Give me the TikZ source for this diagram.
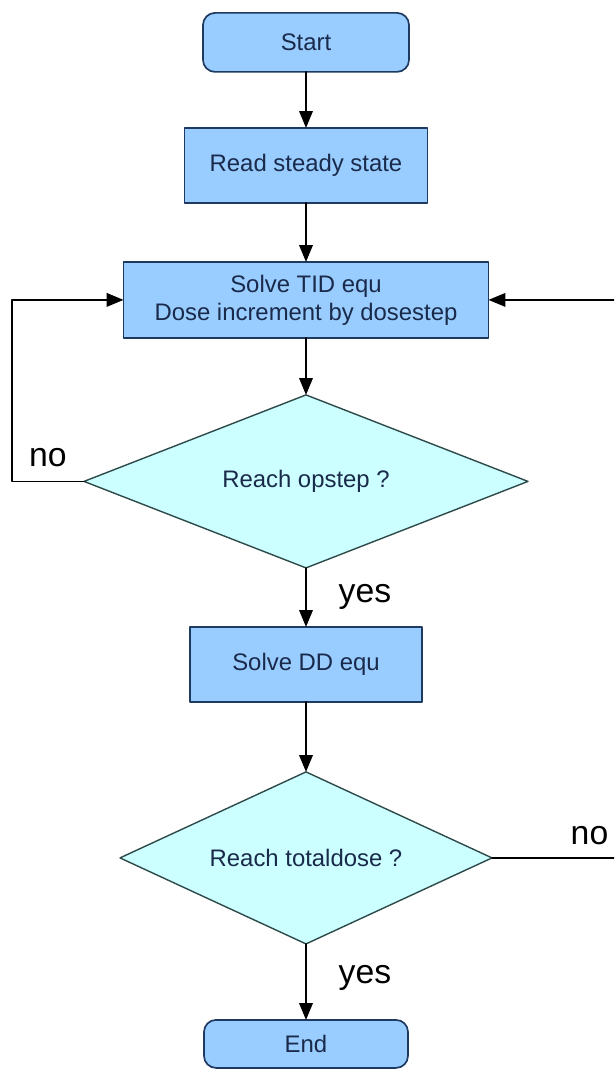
\documentclass[tikz,border=0pt]{standalone}
\usepackage{fontspec}
\setmainfont{Liberation Sans}
\usepackage{tikz}
\usetikzlibrary{arrows.meta,positioning,shapes.geometric}
\definecolor{boxblue}{HTML}{99CCFF}
\definecolor{boxline}{HTML}{1F3A60}
\definecolor{decfill}{HTML}{CCFFFF}
\definecolor{decline}{HTML}{2F4A4A}
\definecolor{boxtext}{HTML}{1A2A4A}
\tikzset{
    every picture/.style={line cap=round,line join=round},
    procbox/.style={draw=boxline,fill=boxblue,line width=1.2pt,
      inner sep=2pt,outer sep=0pt,text=boxtext,
      font=\fontsize{17}{20}\selectfont,align=center},
    termbox/.style={procbox,rounded corners=3mm},
    decision/.style={diamond,aspect=2.5,draw=decline,fill=decfill,line width=1pt,
      inner sep=0pt,outer sep=0pt,text=boxtext,
      font=\fontsize{17}{20}\selectfont,align=center},
    flowarrow/.style={-{Triangle[length=4.2mm,width=3.4mm]},draw=black,
      line width=1pt},
    branchlabel/.style={font=\fontsize{24}{28}\selectfont,inner sep=0pt,
      text=black}
}

\begin{document}
\begin{tikzpicture}
  \useasboundingbox (0,0) rectangle (15.35,-26.9);
  \clip (0,0) rectangle (15.35,-26.9);
  \node[termbox,minimum width=51.5mm,minimum height=14.75mm] (start)
    at (7.65,-1.06) {Start};
  \node[procbox,minimum width=60.75mm,minimum height=18.75mm,
        below=14mm of start] (read) {Read steady state};
  \node[procbox,minimum width=91.25mm,minimum height=19mm,
        below=14.75mm of read] (tid) {Solve TID equ\\Dose increment by dosestep};
  \node[decision,minimum width=111mm,minimum height=43.25mm,
        below=14.25mm of tid] (opstep) {Reach opstep ?};
  \node[procbox,minimum width=58mm,minimum height=18.75mm,
        below=14.75mm of opstep] (dd) {Solve DD equ};
  \node[decision,minimum width=93mm,minimum height=43mm,
        below=17.5mm of dd] (total) {Reach totaldose ?};
  \node[termbox,minimum width=51mm,minimum height=12mm,
        below=19mm of total] (end) {End};

  \draw[flowarrow] (start)--(read);
  \draw[flowarrow] (read)--(tid);
  \draw[flowarrow] (tid)--(opstep);
  \draw[flowarrow] (opstep) -- node[branchlabel,right=8mm] {yes} (dd);
  \draw[flowarrow] (dd)--(total);
  \draw[flowarrow] (total) -- node[branchlabel,right=8mm,pos=0.45] {yes} (end);
  % loops back to the TID step
  \draw[flowarrow] (opstep.west) -- node[branchlabel,above=3.5mm] {no}
    ++(-1.8,0) |- (tid.west);
  \draw[flowarrow] (total.east) -- node[branchlabel,above=3mm] {no}
    ++(4.875,0) |- (tid.east);
\end{tikzpicture}
\end{document}
